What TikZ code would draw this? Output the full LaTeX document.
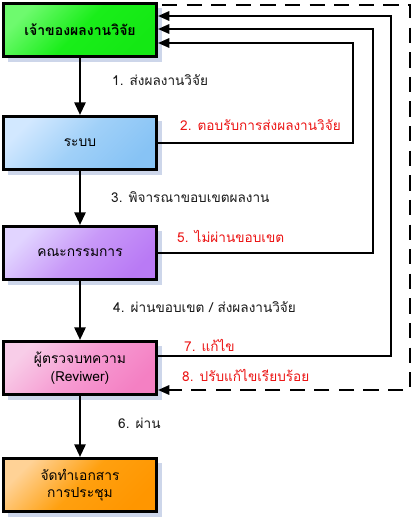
\documentclass[tikz,border=0pt]{standalone}
\usepackage{fontspec}
\setmainfont[Script=Thai]{Loma}
\usetikzlibrary{arrows.meta,shadows,calc}

\definecolor{shadowblue}{RGB}{205,214,234}
\definecolor{notered}{RGB}{235,20,20}

\tikzset{
  stage/.style={draw=black, line width=2.2pt, minimum width=4.6cm, minimum height=1.6cm,
    align=center, font=\fontsize{11.8}{15}\selectfont, shading angle=45,
    drop shadow={shadow xshift=0.15cm, shadow yshift=-0.15cm, fill=shadowblue, opacity=1}},
  flow/.style={draw=black, line width=2.2pt, -{Triangle[length=3.8mm,width=3.3mm]}},
  back/.style={draw=black, line width=1.8pt, -{Triangle[length=3.4mm,width=2.8mm]}},
  dashback/.style={back, dash pattern=on 13pt off 8pt},
  note/.style={anchor=west, inner sep=0pt, text=black!90, font=\fontsize{11.6}{13}\selectfont},
  rednote/.style={note, text=notered}
}

\begin{document}
\begin{tikzpicture}[x=0.03cm, y=-0.03cm]
	\useasboundingbox (0,0) rectangle (412,522);
	% stages
	\node[stage, top color={rgb,255:red,110;green,250;blue,110}, bottom color={rgb,255:red,20;green,232;blue,20}, middle color={rgb,255:red,25;green,238;blue,25}, shading angle=45, font=\fontsize{12}{15}\selectfont\bfseries] (owner) at (80,30) {เจ้าของผลงานวิจัย};
	\node[stage, top color={rgb,255:red,210;green,232;blue,255}, bottom color={rgb,255:red,135;green,195;blue,245}, middle color={rgb,255:red,160;green,208;blue,248}, shading angle=45] (system) at (80,143) {ระบบ};
	\node[stage, top color={rgb,255:red,225;green,212;blue,255}, bottom color={rgb,255:red,185;green,122;blue,245}, middle color={rgb,255:red,200;green,152;blue,248}, shading angle=45] (committee) at (80,253) {คณะกรรมการ};
	\node[stage, top color={rgb,255:red,248;green,205;blue,232}, bottom color={rgb,255:red,244;green,128;blue,195}, middle color={rgb,255:red,246;green,155;blue,210}, shading angle=45] (reviewer) at (80,368) {ผู้ตรวจบทความ\\(Reviwer)};
	\node[stage, top color={rgb,255:red,255;green,210;blue,150}, bottom color={rgb,255:red,255;green,150;blue,0}, middle color={rgb,255:red,255;green,160;blue,15}, shading angle=45] (meeting) at (80,485) {จัดทำเอกสาร\\การประชุม};
	% main flow
	\draw[flow] (owner) -- (system);
	\draw[flow] (system) -- (committee);
	\draw[flow] (committee) -- (reviewer);
	\draw[flow] (reviewer) -- (meeting);
	% returns
	\draw[back] (system.east) -- ++(195,0) |- ($(owner.east)+(0,13)$);
	\draw[back] (committee.east) -- ++(215,0) |- ($(owner.east)+(0,-1)$);
	\draw[back] ($(reviewer.east)+(0,-12)$) -- ++(233,0) |- ($(owner.east)+(0,-14)$);
	\draw[dashback] ($(owner.north east)+(4,3)$) -- ++(248,0) |- ($(reviewer.east)+(0,22)$);
	% labels
	\node[note] (l1) at (112,80) {1. ส่งผลงานวิจัย};
	\node[rednote] (l2) at (180,125) {2. ตอบรับการส่งผลงานวิจัย};
	\node[note] (l3) at (111,197) {3. พิจารณาขอบเขตผลงาน};
	\node[rednote] (l5) at (177,236) {5. ไม่ผ่านขอบเขต};
	\node[note] (l4) at (113,307) {4. ผ่านขอบเขต / ส่งผลงานวิจัย};
	\node[rednote] (l7) at (184,345) {7. แก้ไข};
	\node[rednote] (l8) at (182,375) {8. ปรับแก้ไขเรียบร้อย};
	\node[note] (l6) at (118,423) {6. ผ่าน};
\end{tikzpicture}
\end{document}
